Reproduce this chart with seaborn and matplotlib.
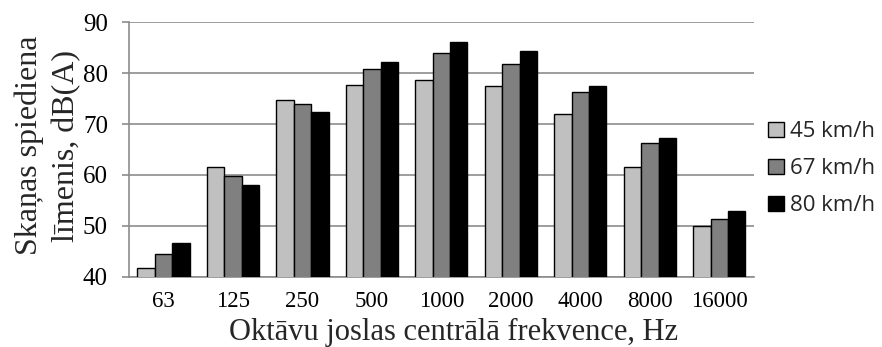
import matplotlib
matplotlib.use("Agg")
import matplotlib.pyplot as plt
import seaborn as sns
import pandas as pd

categories = ["63", "125", "250", "500", "1000", "2000", "4000", "8000", "16000"]
series_names = ["45 km/h", "67 km/h", "80 km/h"]
v45 = [41.8, 61.6, 74.7, 77.7, 78.7, 77.5, 71.9, 61.6, 50.0]
v67 = [44.4, 59.8, 73.9, 80.8, 84.0, 81.8, 76.2, 66.2, 51.3]
v80 = [46.7, 58.0, 72.4, 82.1, 86.2, 84.4, 77.5, 67.3, 52.9]
y_ticks = [40, 50, 60, 70, 80, 90]

rows = []
for name, vals in zip(series_names, [v45, v67, v80]):
    for c, v in zip(categories, vals):
        rows.append({"freq": c, "series": name, "value": v})
df = pd.DataFrame(rows)

sns.set_theme(style="white")
plt.rcParams["font.family"] = ["Liberation Serif", "DejaVu Serif"]

fig = plt.figure(figsize=(8.82, 3.47), dpi=100)
ax = fig.add_axes([0.146, 0.2026, 0.709, 0.7334])

palette = {"45 km/h": "#c0c0c0", "67 km/h": "#808080", "80 km/h": "#000000"}
sns.barplot(data=df, x="freq", y="value", hue="series", order=categories,
            hue_order=series_names, palette=palette, width=0.75,
            edgecolor="black", linewidth=1.0, saturation=1.0, ax=ax,
            legend=True, zorder=3)

ax.set_ylim(40, 90)
ax.set_yticks(y_ticks)
ax.yaxis.grid(True, color="#8c8c8c", linewidth=1.2, zorder=0)
ax.set_axisbelow(True)
for s in ["top", "right"]:
    ax.spines[s].set_visible(False)
ax.spines["left"].set_color("#8c8c8c")
ax.spines["bottom"].set_color("#8c8c8c")
ax.spines["left"].set_linewidth(1.2)
ax.spines["bottom"].set_linewidth(1.2)
ax.tick_params(axis="y", length=5, width=1.2, color="#8c8c8c", labelsize=18, pad=10, left=True)
ax.tick_params(axis="x", length=0, labelsize=16.5, pad=10)
for lab in ax.get_xticklabels() + ax.get_yticklabels():
    lab.set_color("black")

ax.set_xlabel("Oktāvu joslas centrālā frekvence, Hz", fontsize=22)
ax.xaxis.label.set_verticalalignment("bottom")
ax.xaxis.set_label_coords(0.52, -0.2762)

ax.set_ylabel("Skaņas spiediena\nlīmenis, dB(A)", fontsize=23, linespacing=1.35,
              multialignment="center")
ax.yaxis.label.set_verticalalignment("center")
ax.yaxis.set_label_coords(-0.13, 0.515)

handles, labels = ax.get_legend_handles_labels()
ax.legend_.remove()
fig.legend(handles, labels, loc="center left", bbox_to_anchor=(0.871, 0.514),
           frameon=False, prop={"family": "Open Sans", "size": 16},
           handlelength=0.69, handleheight=0.69, handletextpad=0.27,
           labelspacing=0.72, borderaxespad=0, borderpad=0)

fig.savefig("out.png", dpi=100)
